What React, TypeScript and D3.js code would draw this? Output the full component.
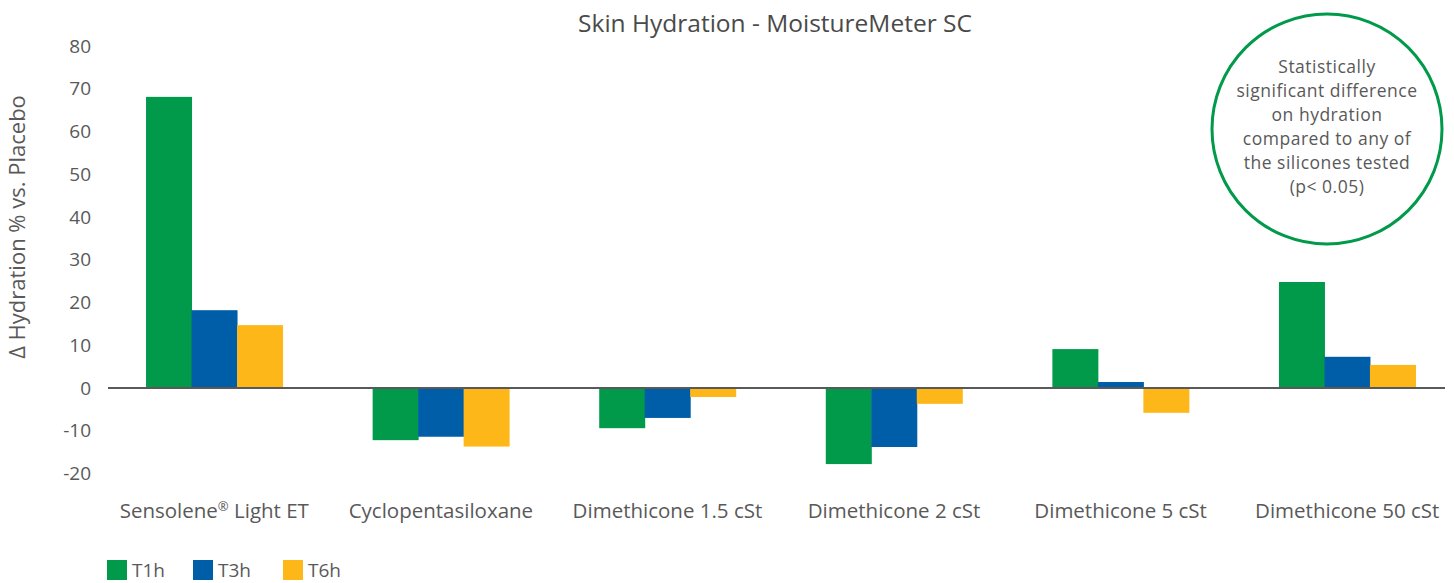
import React from 'react';
import * as d3 from 'd3';

// chart data
const categories = [
  'Sensolene® Light ET',
  'Cyclopentasiloxane',
  'Dimethicone 1.5 cSt',
  'Dimethicone 2 cSt',
  'Dimethicone 5 cSt',
  'Dimethicone 50 cSt',
];
const seriesNames = ['T1h', 'T3h', 'T6h'];
const t1h = [68.1, -12.2, -9.4, -17.8, 9.1, 24.8];
const t3h = [18.2, -11.4, -7.0, -13.8, 1.4, 7.3];
const t6h = [14.7, -13.7, -2.1, -3.7, -5.8, 5.4];
const yTicks = [80, 70, 60, 50, 40, 30, 20, 10, 0, -10, -20];
const noteLines = [
  'Statistically',
  'significant difference',
  'on hydration',
  'compared to any of',
  'the silicones tested',
  '(p< 0.05)',
];

const colors = ['#009A4A', '#005DA8', '#FDB718'];
const textColor = '#595959';
const font = '"Open Sans", Lato, sans-serif';

const width = 1454;
const height = 583;

const App = () => {
  const series = [t1h, t3h, t6h];

  const x = d3.scaleBand<string>()
    .domain(categories)
    .range([101, 1460.5])
    .paddingInner(0)
    .paddingOuter(0);

  const x1 = d3.scaleBand<string>()
    .domain(seriesNames)
    .range([0, x.bandwidth()])
    .paddingOuter(0.99)
    .paddingInner(0);

  const y = d3.scaleLinear()
    .domain([-20, 80])
    .range([473.5, 46]);

  return (
    <svg width={width} height={height} style={{ position: 'absolute', left: 0, top: 0, fontFamily: font }}>
      {/* title */}
      <text x={775} y={32} textAnchor="middle" fontSize={24.5} fill="#4a4a4a">
        Skin Hydration - MoistureMeter SC
      </text>

      {/* y axis title */}
      <text
        transform={`translate(25, ${227}) rotate(-90)`}
        textAnchor="middle"
        fontSize={22}
        fill={textColor}
      >
        Δ Hydration % vs. Placebo
      </text>

      {/* y tick labels */}
      {yTicks.map(t => (
        <text key={t} x={91} y={y(t)} dy="0.35em" textAnchor="end" fontSize={19} fill={textColor}>
          {t}
        </text>
      ))}

      {/* bars */}
      {categories.map((c, ci) => (
        <g key={c} transform={`translate(${x(c)}, 0)`}>
          {series.map((vals, si) => {
            const v = vals[ci];
            const y0 = y(Math.max(0, v));
            const h = Math.abs(y(v) - y(0));
            return (
              <rect
                key={si}
                x={x1(seriesNames[si])}
                y={y0}
                width={x1.bandwidth() + 0.5}
                height={h}
                fill={colors[si]}
              />
            );
          })}
        </g>
      ))}

      {/* zero line */}
      <line x1={108} x2={1445} y1={y(0)} y2={y(0)} stroke={textColor} strokeWidth={2} />

      {/* category labels */}
      {categories.map(c => (
        <text key={c} x={(x(c) ?? 0) + x.bandwidth() / 2} y={518} textAnchor="middle" fontSize={20.5} fill={textColor}>
          {c === categories[0] ? (
            <>
              Sensolene<tspan fontSize={13} dy={-7}>®</tspan>
              <tspan dy={7}> Light ET</tspan>
            </>
          ) : c}
        </text>
      ))}

      {/* legend */}
      {seriesNames.map((s, i) => {
        const lx = [107, 193, 283][i];
        return (
          <g key={s}>
            <rect x={lx} y={560} width={20} height={20} fill={colors[i]} />
            <text x={lx + 25} y={577} fontSize={19} fill={textColor}>{s}</text>
          </g>
        );
      })}

      {/* annotation circle */}
      <circle cx={1327} cy={129} r={115} fill="none" stroke="#009A4A" strokeWidth={3} />
      {noteLines.map((l, i) => (
        <text
          key={i}
          x={1327}
          y={67 + i * 24}
          dy="0.35em"
          textAnchor="middle"
          fontSize={17.5}
          letterSpacing={0.5}
          fill={textColor}
        >
          {l}
        </text>
      ))}
    </svg>
  );
};

export default App;
